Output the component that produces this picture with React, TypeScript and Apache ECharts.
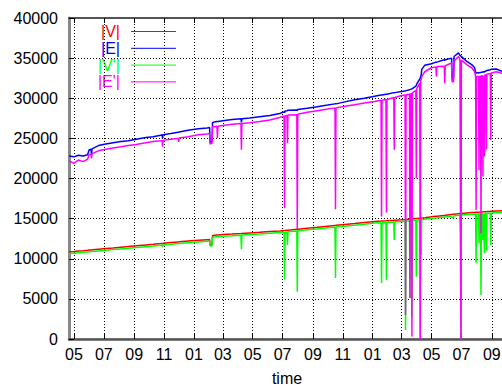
import React, { useEffect, useRef } from 'react';
import * as echarts from 'echarts';

// sample dates (shared by all four series)
const dates = [
  '2005-04-21','2005-05-01','2005-05-10','2005-05-20','2005-05-29','2005-06-01','2005-06-05','2005-06-06','2005-06-07','2005-06-20',
  '2005-07-05','2005-07-20','2005-08-05','2005-08-20','2005-09-05','2005-09-25','2005-10-10','2005-10-25','2005-10-28','2005-10-29',
  '2005-10-30','2005-11-15','2005-11-30','2005-12-01','2005-12-02','2005-12-20','2006-01-10','2006-01-28','2006-02-02','2006-02-03',
  '2006-02-07','2006-02-08','2006-02-12','2006-02-17','2006-02-18','2006-02-19','2006-03-01','2006-03-20','2006-04-07','2006-04-08',
  '2006-04-09','2006-04-25','2006-05-15','2006-06-05','2006-06-25','2006-07-04','2006-07-05','2006-07-06','2006-07-10','2006-07-11',
  '2006-07-12','2006-07-30','2006-07-31','2006-08-01','2006-08-20','2006-09-10','2006-10-01','2006-10-16','2006-10-17','2006-10-18',
  '2006-11-05','2006-11-25','2006-12-15','2007-01-05','2007-01-18','2007-01-19','2007-01-20','2007-01-28','2007-01-29','2007-01-30',
  '2007-02-13','2007-02-14','2007-02-15','2007-03-01','2007-03-08','2007-03-09','2007-03-10','2007-03-17','2007-03-18','2007-03-19',
  '2007-03-21','2007-03-22','2007-03-23','2007-03-30','2007-03-31','2007-04-01','2007-04-07','2007-04-08','2007-04-09','2007-04-10',
  '2007-04-11','2007-04-17','2007-05-01','2007-05-10','2007-05-11','2007-05-12','2007-05-27','2007-05-28','2007-05-29','2007-06-11',
  '2007-06-12','2007-06-15','2007-06-16','2007-06-25','2007-06-28','2007-06-29','2007-06-30','2007-07-01','2007-07-12','2007-07-22',
  '2007-07-28','2007-07-30','2007-07-31','2007-08-01','2007-08-05','2007-08-06','2007-08-07','2007-08-09','2007-08-10','2007-08-11',
  '2007-08-13','2007-08-14','2007-08-15','2007-08-16','2007-08-17','2007-08-18','2007-08-20','2007-08-21','2007-08-22','2007-08-29',
  '2007-08-30','2007-08-31','2007-09-10','2007-09-22',
];

// |V|
const V = [
  10850,10900,10960,11010,11060,11080,11100,11110,11115,11190,
  11270,11350,11440,11520,11610,11720,11800,11890,11910,11915,
  11920,12020,12100,12105,12110,12200,12300,12380,12400,11750,
  11760,12900,12930,12960,12965,12970,13010,13080,13150,13155,
  13160,13220,13300,13390,13470,13510,13515,13520,13550,13555,
  13560,13680,13685,13690,13810,13930,14060,14150,14155,14160,
  14270,14390,14520,14650,14700,14705,14710,14740,14745,14750,
  14800,14805,14810,14850,14880,14885,14890,14930,14935,14940,
  14960,14965,14970,15020,15025,15030,15060,15065,15070,15075,
  15080,15120,15220,15290,15295,15300,15400,15405,15410,15520,
  15525,15550,15555,15620,15640,15645,15650,15660,15710,15750,
  15770,15780,15785,15790,15800,15805,15810,15820,15825,15830,
  15840,15845,15850,15855,15860,15865,15870,15875,15880,15910,
  15915,15920,15950,15980,
];

// |E|
const E = [
  22800,22700,22900,22800,22950,23550,23650,22950,23700,24100,
  24300,24450,24600,24700,24900,25100,25200,25400,25450,25000,
  25450,25600,25750,25700,25800,26000,26200,26300,26350,24500,
  24600,26950,27050,27100,27050,27100,27200,27350,27450,27000,
  27450,27550,27700,27850,28100,28300,28200,28400,28450,28400,
  28500,28550,28450,28600,28750,28950,29150,29300,29250,29300,
  29550,29800,30000,30250,30400,30350,30400,30500,30450,30500,
  30700,30650,30700,30850,30900,30850,30950,31050,31000,31100,
  31150,31100,31200,31500,31600,31800,32400,32500,32700,32900,
  33600,34100,34300,34500,34450,34500,34800,34700,34800,35000,
  32400,32500,35200,35650,35350,35300,35250,35200,34600,34200,
  33800,33200,33100,33200,33150,33100,33200,33200,33150,33250,
  33250,33200,33300,33300,33250,33350,33400,33350,33450,33550,
  33500,33600,33650,33350,
];

// |V'|
const Vp = [
  10640,10690,10750,10800,10850,10870,10890,10900,10905,10980,
  11060,11140,11230,11310,11400,11510,11590,11680,11700,11450,
  11710,11810,11890,11895,11900,11990,12090,12170,12190,11600,
  11610,12690,12720,12750,12755,12760,12800,12870,12940,11190,
  12950,13010,13090,13180,13260,13300,7400,13310,13340,11720,
  13350,13470,5900,13480,13600,13720,13850,13940,7600,13950,
  14060,14180,14310,14440,14490,6980,14500,14530,7360,14540,
  14590,12340,14600,14640,14670,1120,14680,14720,5070,14730,
  14750,2780,14760,14810,7770,14820,14850,0,14860,10470,
  14870,14910,15010,15080,15085,15090,15190,15195,15200,15310,
  15100,15120,15345,15410,15430,13220,0,15450,15500,15540,
  15560,15570,9440,15580,15590,11970,15600,15610,5490,15620,
  15630,12350,15640,15645,10720,15655,15660,11000,15670,15700,
  11720,15710,15740,15770,
];

// |E'|
const Ep = [
  22200,21900,22300,22100,22400,22950,23050,22500,23100,23450,
  23650,23800,23950,24100,24250,24450,24600,24700,24750,23950,
  24750,24900,25000,24550,25050,25200,25450,25550,25600,24300,
  24400,26500,26450,26500,25030,26500,26600,26750,26850,23570,
  26850,26950,27100,27300,27600,27800,16300,27800,27850,24400,
  27900,27950,13700,28000,28250,28450,28650,28800,16170,28800,
  29000,29200,29400,29600,29750,15250,29750,29850,15750,29850,
  30100,23570,30100,30350,30400,2990,30450,30500,5100,30550,
  30600,300,30650,31000,20000,31200,31900,0,32200,32400,
  32700,33300,33800,33900,32700,33950,34000,31880,34050,34400,
  32000,32100,34600,35200,34850,34800,0,34750,34200,33800,
  33300,32700,16090,32700,32700,21070,32750,32750,13180,32800,
  32800,20240,32850,32850,22730,32900,32950,23570,33000,33100,
  24810,33150,33300,33100,
];

const xTickDates = [
  '2005-05-01','2005-07-01','2005-09-01','2005-11-01','2006-01-01','2006-03-01','2006-05-01','2006-07-01',
  '2006-09-01','2006-11-01','2007-01-01','2007-03-01','2007-05-01','2007-07-01','2007-09-01',
];
const xTickLabels = ['05','07','09','11','01','03','05','07','09','11','01','03','05','07','09'];
const xMin = '2005-04-21';
const xMax = '2007-09-28';
const yMax = 40000;
const yStep = 5000;

const seriesNames = ['|V|', '|E|', "|V'|", "|E'|"];
const seriesColors = ['#ff0000', '#0000ff', '#00ff00', '#ff00ff'];
const seriesValues = [V, E, Vp, Ep];

const FONT = '"Liberation Sans", Arial, Helvetica, sans-serif';
const DAY = 86400000;
const dayNum = (d: string) => Math.round(Date.parse(d + 'T00:00:00Z') / DAY);

export default function App() {
  const ref = useRef<HTMLDivElement>(null);
  useEffect(() => {
    if (!ref.current) return;
    const chart = echarts.init(ref.current, null, { renderer: 'svg' });
    const tickDays = xTickDates.map(dayNum);
    const labelMap: Record<number, string> = {};
    tickDays.forEach((t, i) => {
      labelMap[t] = xTickLabels[i];
    });
    const gridLine = { show: true, lineStyle: { color: '#000', width: 1, type: [1, 2] as any } };
    const legendY0 = 31.5;
    const legendDy = 16.8;
    const graphic: any[] = [];
    seriesNames.forEach((n, i) => {
      const y = legendY0 + i * legendDy;
      graphic.push({
        type: 'text',
        x: 120,
        y,
        style: { text: n, fill: seriesColors[i], font: `16px ${FONT}`, align: 'right', verticalAlign: 'middle' },
      });
      graphic.push({
        type: 'line',
        shape: { x1: 131, y1: y, x2: 176, y2: y },
        style: { stroke: seriesColors[i], lineWidth: 1 },
      });
    });
    chart.setOption({
      animation: false,
      backgroundColor: '#fff',
      textStyle: { fontFamily: FONT },
      grid: {
        left: 69, right: -3, top: 18, bottom: 48,
        outerBoundsMode: 'none', containLabel: false,
        show: true, borderColor: '#888', borderWidth: 1,
      },
      xAxis: [
        {
          type: 'value',
          min: dayNum(xMin),
          max: dayNum(xMax),
          axisLine: { show: true, lineStyle: { color: '#555', width: 2.5 } },
          axisTick: { show: true, inside: true, length: 5, customValues: tickDays, lineStyle: { color: '#000' } },
          axisLabel: {
            customValues: tickDays,
            formatter: (v: number) => labelMap[v] ?? '',
            fontSize: 16,
            color: '#000',
            margin: 7,
            fontFamily: FONT,
            showMinLabel: true,
            showMaxLabel: true,
            hideOverlap: false,
          },
          splitLine: gridLine,
          name: 'time',
          nameLocation: 'middle',
          nameGap: 31,
          nameTextStyle: { fontSize: 16, color: '#000', fontFamily: FONT },
        },
        {
          type: 'value',
          position: 'top',
          min: dayNum(xMin),
          max: dayNum(xMax),
          axisLine: { show: true, lineStyle: { color: '#555', width: 2 } },
          axisTick: { show: true, inside: true, length: 5, customValues: tickDays, lineStyle: { color: '#000' } },
          axisLabel: { show: false },
          splitLine: { show: false },
        },
      ],
      yAxis: {
        type: 'value',
        min: 0,
        max: yMax,
        interval: yStep,
        axisLine: { show: true, lineStyle: { color: '#888', width: 3 } },
        axisTick: { show: true, inside: true, length: 5, lineStyle: { color: '#000' } },
        axisLabel: { fontSize: 16, color: '#000', margin: 11, fontFamily: FONT, formatter: (v: number) => String(v) },
        splitLine: gridLine,
      },
      graphic,
      series: seriesNames.map((n, k) => ({
        name: n,
        type: 'line',
        xAxisIndex: 0,
        showSymbol: false,
        symbol: 'none',
        silent: true,
        lineStyle: { color: seriesColors[k], width: 1.5 },
        itemStyle: { color: seriesColors[k] },
        data: dates.map((d, i) => [dayNum(d), seriesValues[k][i]]),
      })),
    });
    return () => chart.dispose();
  }, []);
  return <div ref={ref} style={{ position: 'absolute', left: 0, top: 0, width: 502, height: 387, background: '#fff' }} />;
}
